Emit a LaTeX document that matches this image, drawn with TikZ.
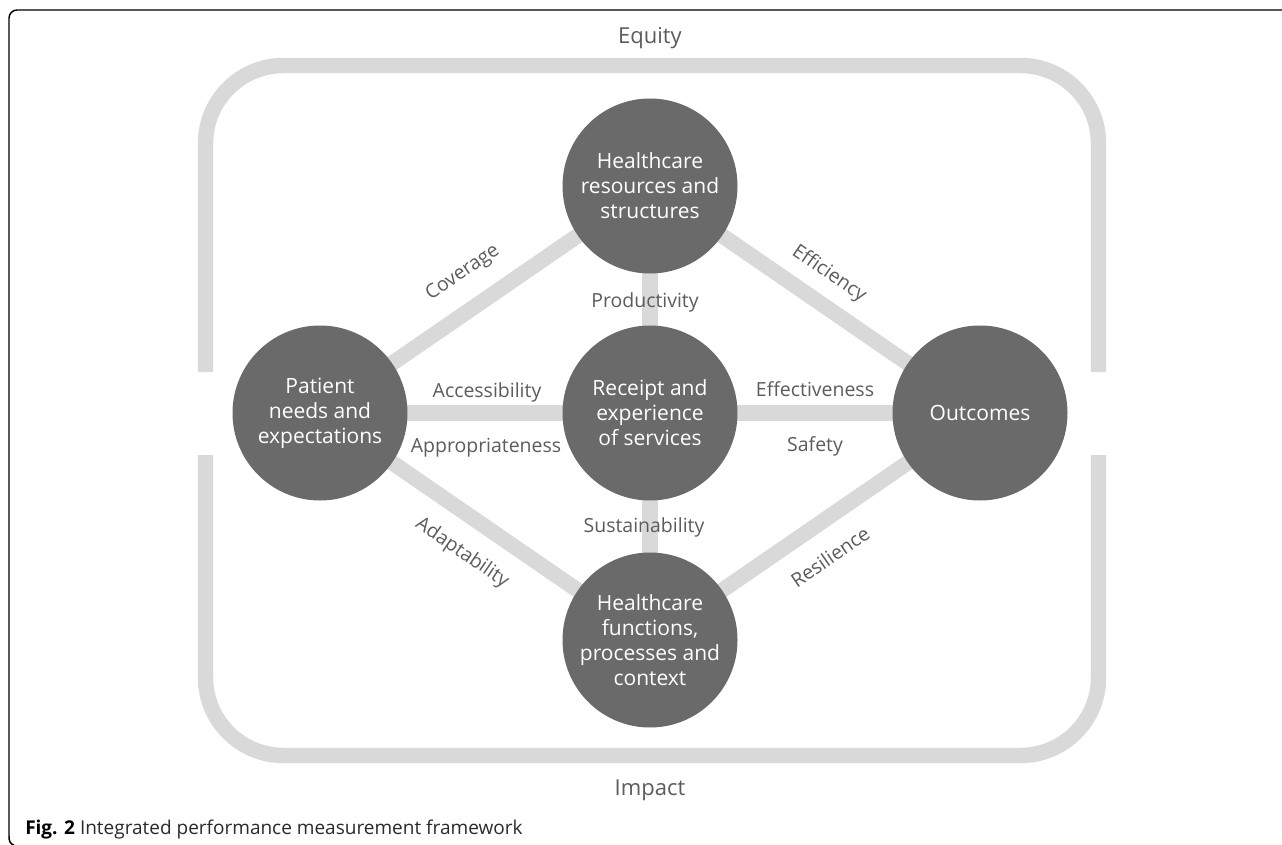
\documentclass[tikz,border=0pt]{standalone}
\usepackage{fontspec}
\setmainfont{Open Sans}
\usetikzlibrary{backgrounds}
\definecolor{discgray}{HTML}{6A6A6A}
\definecolor{bandgray}{HTML}{D9D9D9}
\definecolor{labelgray}{HTML}{5C5C5C}
\definecolor{captiongray}{HTML}{2A2A2A}

\begin{document}
\begin{tikzpicture}[x=0.75pt,y=-0.75pt,
  disc/.style={circle, fill=discgray, minimum size=131.25pt, inner sep=0pt,
    text=white, align=center, font=\fontsize{15.75}{18.75}\selectfont},
  bandline/.style={draw=bandgray, line width=11.6pt},
  elabel/.style={text=labelgray, font=\fontsize{14.6}{17}\selectfont, inner sep=0pt},
  dimlabel/.style={text=labelgray, font=\fontsize{16.5}{19}\selectfont, inner sep=0pt}
]
\useasboundingbox (0,0) rectangle (1282,845);

% the five dimensions
\node[disc] (T) at (650,186) {Healthcare\\resources and\\structures};
\node[disc] (P) at (320,413) {Patient\\needs and\\expectations};
\node[disc] (C) at (650,413) {Receipt and\\experience\\of services};
\node[disc] (O) at (980,413) {Outcomes};
\node[disc] (B) at (650,640) {Healthcare\\functions,\\processes and\\context};

% links between the dimensions and the surrounding frame
\begin{pgfonlayer}{background}
  \fill[white] (0,0) rectangle (1282,845);
  \draw[bandline, rounded corners=58.5pt] (205.5,372) -- (205.5,65.5) -- (1098.5,65.5) -- (1098.5,372);
  \draw[bandline, rounded corners=58.5pt] (205.5,455) -- (205.5,755.5) -- (1098.5,755.5) -- (1098.5,455);
  \draw[bandline] (P.center) -- (T.center);
  \draw[bandline] (T.center) -- (O.center);
  \draw[bandline] (P.center) -- (B.center);
  \draw[bandline] (B.center) -- (O.center);
  \draw[bandline] (P.center) -- (O.center);
  \draw[bandline] (T.center) -- (B.center);
\end{pgfonlayer}

% labels of the links
\node[elabel, rotate=34.5]  (lcov) at (463,273) {Coverage};
\node[elabel, rotate=-34.5] (leff) at (829,274) {Efficiency};
\node[elabel, rotate=-34.5] (lada) at (462,553) {Adaptability};
\node[elabel, rotate=34.5]  (lres) at (830,557) {Resilience};
\node[elabel, anchor=base] (lpro) at (645,307) {Productivity};
\node[elabel, anchor=base] (lsus) at (644,532) {Sustainability};
\node[elabel, anchor=base] (lacc) at (487,397) {Accessibility};
\node[elabel, anchor=base] (lapp) at (486,452) {Appropriateness};
\node[elabel, anchor=base] (lefv) at (815,396) {Effectiveness};
\node[elabel, anchor=base] (lsaf) at (815,451) {Safety};

% labels of the frame
\node[dimlabel, anchor=base] (equity) at (650,44) {Equity};
\node[dimlabel, anchor=base] (impact) at (650,795) {Impact};

% panel border and caption
\draw[line width=1.1pt] (14,845) .. controls (10,844) and (9,841) .. (9,836)
  [rounded corners=6pt] -- (9,10) -- (1282,10);
\node[anchor=base west, text=captiongray, font=\fontsize{14.25}{17}\selectfont, inner sep=0pt]
  (caption) at (25,834) {\textbf{\color{black}Fig. 2} Integrated performance measurement framework};
\end{tikzpicture}
\end{document}
